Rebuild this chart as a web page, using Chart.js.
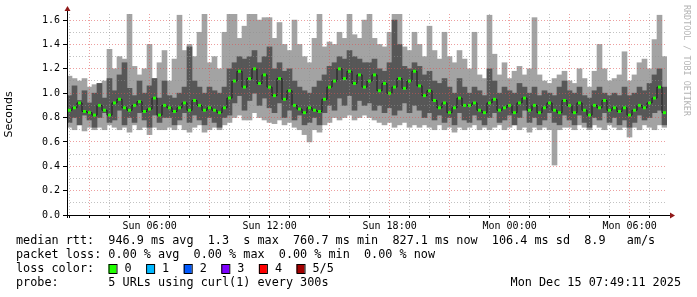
<!DOCTYPE html>
<html>
<head>
<meta charset="utf-8">
<script src="https://cdn.jsdelivr.net/npm/chart.js@4"></script>
<style>
  html, body { margin: 0; padding: 0; background: #fff; }
  #wrap { width: 697px; height: 297px; }
</style>
</head>
<body>
<div id="wrap"><canvas id="myChart" width="697" height="297"></canvas></div>
<script>
// time axis: hours since Sun 00:00, one sample every 15 minutes
const START = 1.87
const STEP = 0.25
const X_MAX = 31.87

const tickHours = [6, 12, 18, 24, 30]
const tickLabels = ['Sun 06:00', 'Sun 12:00', 'Sun 18:00', 'Mon 00:00', 'Mon 06:00']

// smoke: outer spread (lo..hi), inner spread (dlo..dhi), median, seconds
const lo = [
  .72,.70,.74,.69,.72,.70,.72,.70,.74,.72,.70,.72,.68,.74,.70,.72,.66,.72,.70,.70,
  .72,.70,.74,.70,.68,.72,.74,.68,.70,.72,.70,.74,.76,.80,.82,.78,.78,.84,.80,.78,
  .76,.75,.78,.74,.76,.72,.70,.66,.60,.70,.68,.74,.76,.80,.78,.80,.82,.78,.80,.82,
  .80,.78,.76,.74,.76,.72,.74,.76,.72,.74,.72,.74,.72,.70,.74,.70,.72,.68,.72,.70,
  .72,.74,.70,.72,.70,.72,.74,.70,.72,.74,.70,.72,.68,.72,.70,.72,.70,.41,.70,.72,
  .72,.70,.74,.72,.70,.74,.72,.70,.74,.72,.70,.72,.64,.72,.70,.74,.72,.70,.74,.72
]
const dlo = [
  .76,.80,.74,.82,.78,.72,.80,.84,.76,.78,.86,.74,.80,.76,.84,.78,.72,.82,.76,.80,
  .80,.74,.78,.84,.76,.82,.78,.74,.80,.76,.72,.80,.82,.92,.98,.86,.94,1.00,.90,.96,
  .88,.84,.92,.80,.86,.78,.82,.74,.76,.80,.74,.84,.90,.86,.96,.90,.98,.86,.94,.90,
  .92,.86,.90,.84,.88,.82,.86,.92,.84,.90,.86,.80,.84,.78,.82,.76,.80,.74,.84,.78,
  .76,.82,.78,.74,.80,.84,.76,.78,.82,.74,.80,.86,.76,.80,.74,.78,.84,.76,.74,.82,
  .78,.74,.82,.76,.72,.80,.78,.84,.76,.80,.74,.78,.72,.76,.82,.78,.80,.84,.86,.74
]
const med = [
  .86,.88,.92,.85,.84,.82,.90,.86,.82,.92,.95,.88,.86,.90,.93,.85,.87,.96,.82,.90,
  .88,.85,.88,.92,.86,.94,.90,.86,.88,.86,.84,.88,.96,1.10,1.18,1.05,1.12,1.20,1.08,1.15,
  1.05,.98,1.12,.95,1.02,.90,.87,.84,.88,.86,.85,.95,1.05,1.10,1.20,1.12,1.18,1.08,1.15,1.05,
  1.10,1.15,1.02,1.08,1.00,1.05,1.12,1.04,1.10,1.18,1.06,.98,1.02,.94,.88,.92,.84,.88,.96,.90,
  .90,.92,.86,.84,.92,.95,.86,.88,.90,.84,.92,.96,.86,.90,.84,.88,.92,.86,.84,.94,
  .90,.84,.92,.86,.82,.90,.88,.94,.86,.88,.85,.88,.82,.86,.90,.88,.92,.96,1.05,.84
]
const dhi = [
  .98,1.06,.94,1.02,.92,1.00,1.08,.96,1.12,1.02,1.15,1.25,1.04,.98,1.10,1.00,1.06,1.12,.96,1.10,
  .98,.96,1.00,1.05,1.38,1.10,1.05,1.00,1.05,1.02,1.00,1.05,1.20,1.25,1.30,1.28,1.30,1.35,1.25,1.30,
  1.38,1.20,1.25,1.18,1.20,1.10,1.05,1.02,1.00,1.05,1.10,1.15,1.22,1.25,1.30,1.28,1.35,1.30,1.28,1.25,
  1.25,1.28,1.20,1.18,1.25,1.60,1.40,1.22,1.20,1.25,1.22,1.15,1.18,1.10,1.08,1.12,1.05,1.00,1.12,1.05,
  1.00,1.05,1.02,.98,1.20,1.10,1.00,1.05,1.02,1.00,1.08,1.05,1.00,1.05,.98,1.02,1.00,.98,1.05,1.10,
  1.02,1.00,1.05,.98,.96,1.02,1.05,1.00,.98,1.00,.98,1.05,.98,1.00,1.05,1.02,1.08,1.15,1.20,1.05
]
const hi = [
  1.14,1.12,1.10,1.12,1.05,1.07,1.08,1.10,1.36,1.20,1.30,1.28,1.65,1.22,1.15,1.20,1.40,1.12,1.25,1.35,
  1.10,1.28,1.64,1.35,1.40,1.30,1.50,1.65,1.25,1.30,1.20,1.50,1.65,1.65,1.45,1.55,1.65,1.65,1.60,1.62,
  1.62,1.45,1.58,1.40,1.35,1.60,1.40,1.30,1.25,1.45,1.65,1.38,1.42,1.40,1.50,1.45,1.65,1.48,1.45,1.60,
  1.65,1.45,1.40,1.38,1.50,1.65,1.65,1.38,1.35,1.50,1.40,1.30,1.55,1.35,1.28,1.50,1.30,1.25,1.35,1.28,
  1.20,1.50,1.15,1.12,1.64,1.32,1.15,1.25,1.12,1.18,1.22,1.15,1.20,1.62,1.15,1.10,1.08,1.12,1.15,1.18,
  1.10,1.08,1.20,1.12,1.05,1.18,1.40,1.20,1.10,1.12,1.15,1.34,1.10,1.15,1.25,1.28,1.20,1.44,1.64,1.30
]

const legendRows = [
  'median rtt:  946.9 ms avg  1.3  s max  760.7 ms min  827.1 ms now  106.4 ms sd  8.9   am/s',
  'packet loss: 0.00 % avg  0.00 % max  0.00 % min  0.00 % now',
  'loss color:',
  'probe:       5 URLs using curl(1) every 300s'
]
const lossLabels = ['0', '1', '2', '3', '4', '5/5']
const lossColors = ['#20ff00', '#00b8ff', '#0059ff', '#7e00ff', '#ff0000', '#a10000']
const stamp = 'Mon Dec 15 07:49:11 2025'

const MGRID = 'rgba(222,81,81,0.55)'
const GRID = 'rgba(143,143,143,0.55)'
const MONO = '"DejaVu Sans Mono", monospace'

const times = med.map((v, i) => START + (i + 0.5) * STEP)

const rrdDecor = {
  id: 'rrdDecor',
  afterDraw(chart) {
    const c = chart.ctx
    const a = chart.chartArea
    c.save()
    // axes
    c.strokeStyle = '#000'
    c.lineWidth = 1
    c.beginPath()
    c.moveTo(a.left - 4, a.bottom + 0.5)
    c.lineTo(a.right + 4, a.bottom + 0.5)
    c.moveTo(a.left + 0.5, a.bottom + 3)
    c.lineTo(a.left + 0.5, a.top - 4)
    c.stroke()
    c.fillStyle = '#901818'
    c.beginPath()
    c.moveTo(a.right + 3, a.bottom - 2.5)
    c.lineTo(a.right + 8, a.bottom + 0.5)
    c.lineTo(a.right + 3, a.bottom + 3.5)
    c.fill()
    c.beginPath()
    c.moveTo(a.left - 2.5, a.top - 3)
    c.lineTo(a.left + 0.5, a.top - 8)
    c.lineTo(a.left + 3.5, a.top - 3)
    c.fill()

    // watermark
    c.save()
    c.translate(686, 5)
    c.rotate(Math.PI / 2)
    c.fillStyle = '#b4b4b4'
    c.font = '8.4px ' + MONO
    c.textBaseline = 'middle'
    c.fillText('RRDTOOL / TOBI OETIKER', 0, 0)
    c.restore()

    // legend block
    c.fillStyle = '#000'
    c.font = '11.8px ' + MONO
    c.textBaseline = 'middle'
    const rowY = [241, 255, 269, 283]
    legendRows.forEach((t, i) => c.fillText(t, 16, rowY[i]))
    lossLabels.forEach((t, i) => {
      const x = 108.5 + i * 37.6
      c.fillStyle = lossColors[i]
      c.fillRect(x, 264, 8, 9)
      c.strokeStyle = '#000'
      c.strokeRect(x + 0.5, 264.5, 8, 9)
      c.fillStyle = '#000'
      c.fillText(t, x + 16, rowY[2])
    })
    c.textAlign = 'right'
    c.fillText(stamp, 681, rowY[3])
    c.restore()
  }
}

const ctx = document.getElementById('myChart').getContext('2d')
new Chart(ctx, {
  type: 'bar',
  data: {
    datasets: [
      {
        type: 'line',
        label: 'median',
        data: times.map((x, i) => ({ x: x, y: med[i] })),
        borderColor: '#1c1c1c',
        borderWidth: 1,
        stepped: 'middle',
        pointStyle: 'rect',
        pointRadius: 2.1,
        pointBorderWidth: 0,
        pointBackgroundColor: '#20ff00',
        order: 0
      },
      {
        label: 'inner',
        data: times.map((x, i) => ({ x: x, y: [dlo[i], dhi[i]] })),
        backgroundColor: '#575757',
        grouped: false,
        barPercentage: 1,
        categoryPercentage: 1,
        borderWidth: 0,
        order: 1
      },
      {
        label: 'outer',
        data: times.map((x, i) => ({ x: x, y: [lo[i], hi[i]] })),
        backgroundColor: '#a3a3a3',
        grouped: false,
        barPercentage: 1,
        categoryPercentage: 1,
        borderWidth: 0,
        order: 2
      }
    ]
  },
  options: {
    responsive: false,
    animation: false,
    events: [],
    layout: { padding: { left: 0, top: 14, right: 30, bottom: 0 } },
    plugins: { legend: { display: false }, tooltip: { enabled: false } },
    scales: {
      x: {
        type: 'linear',
        offset: false,
        min: START,
        max: X_MAX,
        afterBuildTicks(scale) {
          const t = []
          for (let h = Math.ceil(START); h <= X_MAX; h++) t.push({ value: h })
          scale.ticks = t
        },
        afterFit(scale) { scale.height = 82 },
        ticks: {
          autoSkip: false,
          maxRotation: 0,
          padding: 2,
          color: '#000',
          font: { family: MONO, size: 10 },
          callback(value) {
            const k = tickHours.indexOf(value)
            return k >= 0 ? tickLabels[k] : ''
          }
        },
        grid: {
          z: 1,
          offset: false,
          color: c => (c.tick && c.tick.value % 3 === 0 ? MGRID : GRID),
          tickColor: '#000',
          tickLength: 3
        },
        border: { display: false, dash: [1, 2] }
      },
      y: {
        min: 0,
        max: 1.65,
        afterBuildTicks(scale) {
          const t = []
          for (let k = 0; k <= 16; k++) t.push({ value: k / 10 })
          scale.ticks = t
        },
        afterFit(scale) { scale.width = 67 },
        title: {
          display: true,
          text: 'Seconds',
          color: '#000',
          padding: { top: 3, bottom: 0 },
          font: { family: '"DejaVu Sans", sans-serif', size: 11 }
        },
        ticks: {
          autoSkip: false,
          padding: 3,
          color: '#000',
          font: { family: MONO, size: 10 },
          callback(value) {
            const k = Math.round(value * 10)
            return k % 2 === 0 ? (k / 10).toFixed(1) : ''
          }
        },
        grid: {
          z: 1,
          color: c => (c.tick && Math.round(c.tick.value * 10) % 2 === 0 ? MGRID : GRID),
          tickColor: c => (c.tick && Math.round(c.tick.value * 10) % 2 === 0 ? '#000' : 'rgba(0,0,0,0)'),
          tickLength: 4
        },
        border: { display: false, dash: [1, 2] }
      }
    }
  },
  plugins: [rrdDecor]
})
</script>
</body>
</html>
